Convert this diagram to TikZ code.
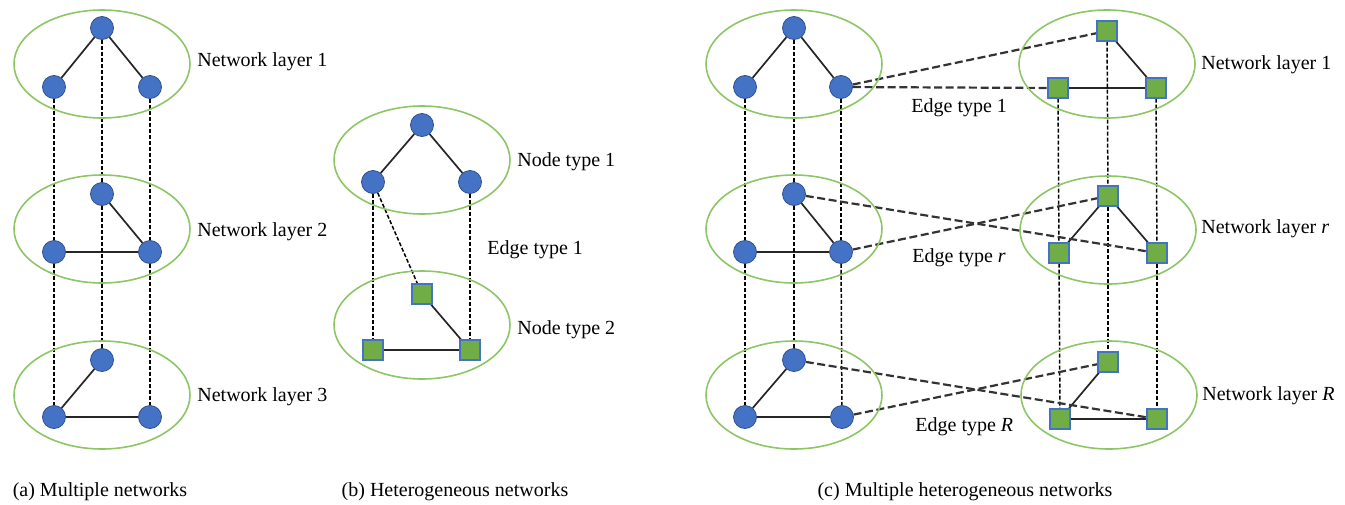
\documentclass[tikz,border=0pt]{standalone}
\usepackage{fontspec}
\setmainfont{Liberation Serif}
\usetikzlibrary{shapes.geometric,backgrounds}

\definecolor{nodeblue}{HTML}{4472C4}
\definecolor{nodeblueline}{HTML}{2F528F}
\definecolor{nodegreen}{HTML}{70AD47}
\definecolor{ringgreen}{HTML}{8CC665}

\tikzset{
  ring/.style={ellipse, draw=ringgreen, line width=0.8pt,
    minimum width=88pt, minimum height=54pt, inner sep=0pt},
  dot/.style={circle, fill=nodeblue, draw=nodeblueline, line width=0.4pt,
    minimum size=11.5pt, inner sep=0pt},
  sq/.style={rectangle, fill=nodegreen, draw=nodeblue, line width=0.7pt,
    minimum size=10pt, inner sep=0pt},
  link/.style={line width=0.85pt, draw=black!85},
  vlink/.style={line width=0.75pt, dash pattern=on 2pt off 1pt},
  xlink/.style={line width=1.1pt, dash pattern=on 4pt off 1.8pt, draw=black!80},
  lbl/.style={anchor=west, inner sep=0pt, font=\fontsize{10}{12}\selectfont},
  subcap/.style={inner sep=0pt, font=\fontsize{10}{12}\selectfont}
}

\begin{document}
\begin{tikzpicture}[x=0.5pt,y=-0.5pt]
\useasboundingbox (0,0) rectangle (1345,504);

% (a) Multiple networks
\node (aring1) [ring] at (102,64) {};
\node (aring2) [ring] at (102,229) {};
\node (aring3) [ring] at (102,395) {};

\node (a1t) [dot] at (102,28) {};
\node (a1l) [dot] at (54,87) {};
\node (a1r) [dot] at (150,87) {};

\node (a2t) [dot] at (102,194) {};
\node (a2l) [dot] at (54,252) {};
\node (a2r) [dot] at (150,252) {};

\node (a3t) [dot] at (102,360) {};
\node (a3l) [dot] at (54,417) {};
\node (a3r) [dot] at (150,417) {};

\node (alay1) [lbl] at (197,62) {Network layer 1};
\node (alay2) [lbl] at (197,232) {Network layer 2};
\node (alay3) [lbl] at (197,397) {Network layer 3};

\node (acap) [subcap] at (100,492) {(a) Multiple networks};

% (b) Heterogeneous networks
\node (bring1) [ring] at (422,160) {};
\node (bring2) [ring] at (422,325) {};

\node (b1t) [dot] at (422,125) {};
\node (b1l) [dot] at (373,182) {};
\node (b1r) [dot] at (470,182) {};

\node (b2t) [sq] at (422,294) {};
\node (b2l) [sq] at (373,350) {};
\node (b2r) [sq] at (470,350) {};

\node (bnode1) [lbl] at (517,162) {Node type 1};
\node (bedge1) [lbl] at (487,250) {Edge type 1};
\node (bnode2) [lbl] at (517,330) {Node type 2};

\node (bcap) [subcap] at (455,492) {(b) Heterogeneous networks};

% (c) Multiple heterogeneous networks -- left column
\node (cring1) [ring] at (794,64) {};
\node (cring2) [ring] at (794,229) {};
\node (cring3) [ring] at (794,395) {};

\node (c1t) [dot] at (794,28) {};
\node (c1l) [dot] at (745,87) {};
\node (c1r) [dot] at (841,87) {};

\node (c2t) [dot] at (794,194) {};
\node (c2l) [dot] at (745,252) {};
\node (c2r) [dot] at (841,252) {};

\node (c3t) [dot] at (794,360) {};
\node (c3l) [dot] at (745,417) {};
\node (c3r) [dot] at (842,417) {};

% (c) right column
\node (dring1) [ring] at (1107,64) {};
\node (dring2) [ring] at (1108,230) {};
\node (dring3) [ring] at (1109,395) {};

\node (d1t) [sq] at (1107,31) {};
\node (d1l) [sq] at (1058,88) {};
\node (d1r) [sq] at (1156,88) {};

\node (d2t) [sq] at (1108,196) {};
\node (d2l) [sq] at (1059,253) {};
\node (d2r) [sq] at (1157,253) {};

\node (d3t) [sq] at (1108,362) {};
\node (d3l) [sq] at (1060,419) {};
\node (d3r) [sq] at (1157,419) {};

\node (cedge1) [lbl] at (911,108) {Edge type 1};
\node (cedger) [lbl] at (912,258) {Edge type \textit{r}};
\node (cedgeR) [lbl] at (915,427) {Edge type \textit{R}};

\node (dlay1) [lbl] at (1201,65) {Network layer 1};
\node (dlayr) [lbl] at (1201,229) {Network layer \textit{r}};
\node (dlayR) [lbl] at (1202,396) {Network layer \textit{R}};

\node (ccap) [subcap] at (965,492) {(c) Multiple heterogeneous networks};

%-------------------------------------
% edges
\begin{scope}[on background layer]
% (a)
\draw [link] (a1t) -- (a1l);
\draw [link] (a1t) -- (a1r);
\draw [link] (a2t) -- (a2r);
\draw [link] (a2l) -- (a2r);
\draw [link] (a3t) -- (a3l);
\draw [link] (a3l) -- (a3r);

\draw [vlink] (a1l) -- (a2l);
\draw [vlink] (a2l) -- (a3l);
\draw [vlink] (a1t) -- (a2t);
\draw [vlink] (a2t) -- (a3t);
\draw [vlink] (a1r) -- (a2r);
\draw [vlink] (a2r) -- (a3r);

% (b)
\draw [link] (b1t) -- (b1l);
\draw [link] (b1t) -- (b1r);
\draw [link] (b2t) -- (b2r);
\draw [link] (b2l) -- (b2r);

\draw [vlink] (b1l) -- (b2l);
\draw [vlink] (b1l) -- (b2t);
\draw [vlink] (b1r) -- (b2r);

% (c) left
\draw [link] (c1t) -- (c1l);
\draw [link] (c1t) -- (c1r);
\draw [link] (c2t) -- (c2r);
\draw [link] (c2l) -- (c2r);
\draw [link] (c3t) -- (c3l);
\draw [link] (c3l) -- (c3r);

\draw [vlink] (c1l) -- (c2l);
\draw [vlink] (c2l) -- (c3l);
\draw [vlink] (c1t) -- (c2t);
\draw [vlink] (c2t) -- (c3t);
\draw [vlink] (c1r) -- (c2r);
\draw [vlink] (c2r) -- (c3r);

% (c) right
\draw [link] (d1t) -- (d1r);
\draw [link] (d1l) -- (d1r);
\draw [link] (d2t) -- (d2l);
\draw [link] (d2t) -- (d2r);
\draw [link] (d3t) -- (d3l);
\draw [link] (d3l) -- (d3r);

\draw [vlink] (d1l) -- (d2l);
\draw [vlink] (d2l) -- (d3l);
\draw [vlink] (d1t) -- (d2t);
\draw [vlink] (d2t) -- (d3t);
\draw [vlink] (d1r) -- (d2r);
\draw [vlink] (d2r) -- (d3r);

% (c) edge types
\draw [xlink] (c1r) -- (d1t);
\draw [xlink] (c1r) -- (d1l);
\draw [xlink] (c2t) -- (d2r);
\draw [xlink] (c2r) -- (d2t);
\draw [xlink] (c3t) -- (d3r);
\draw [xlink] (c3r) -- (d3t);
\end{scope}

\end{tikzpicture}
\end{document}
